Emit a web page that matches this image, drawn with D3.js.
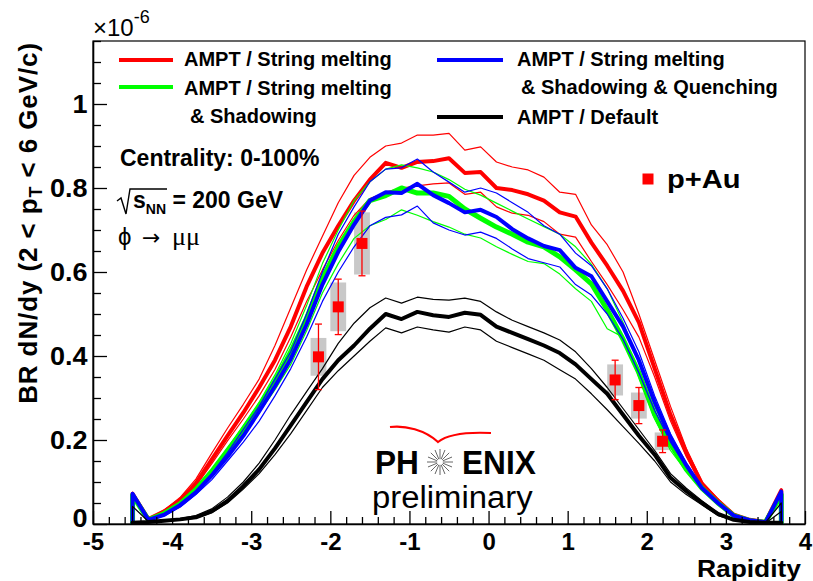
<!DOCTYPE html>
<html>
<head>
<meta charset="utf-8">
<script src="https://cdn.jsdelivr.net/npm/d3@7"></script>
<style>
  body { margin: 0; background: #fff; }
  text { font-family: "Liberation Sans", Arial, Helvetica, sans-serif; }
</style>
</head>
<body>
<svg id="chart" width="813" height="581"></svg>
<script>
// ---------------- DATA ----------------
const rapidity = [-4.5, -4.3, -4.1, -3.9, -3.7, -3.5, -3.3, -3.1, -2.9, -2.7, -2.5, -2.3, -2.1, -1.9, -1.7, -1.5, -1.3, -1.1, -0.9, -0.7, -0.5, -0.3, -0.1,
                  0.1, 0.3, 0.5, 0.7, 0.9, 1.1, 1.3, 1.5, 1.7, 1.9, 2.1, 2.3, 2.5, 2.7, 2.9, 3.1, 3.3, 3.5, 3.7];

// AMPT / String melting (red): central, upper, lower
const smMid = [0.072, 0.012, 0.030, 0.057, 0.097, 0.153, 0.210, 0.265, 0.325, 0.390, 0.470, 0.565, 0.645, 0.710, 0.770, 0.820, 0.860, 0.848, 0.862, 0.864, 0.871, 0.836, 0.838,
               0.800, 0.795, 0.785, 0.770, 0.742, 0.732, 0.670, 0.615, 0.555, 0.480, 0.370, 0.260, 0.170, 0.095, 0.055, 0.022, 0.010, 0.005, 0.080];
const smUp  = [0.076, 0.013, 0.033, 0.063, 0.107, 0.168, 0.228, 0.285, 0.345, 0.425, 0.515, 0.605, 0.685, 0.765, 0.830, 0.873, 0.900, 0.907, 0.926, 0.926, 0.930, 0.890, 0.898,
               0.862, 0.850, 0.843, 0.826, 0.790, 0.785, 0.712, 0.665, 0.600, 0.500, 0.390, 0.280, 0.180, 0.100, 0.060, 0.025, 0.011, 0.005, 0.084];
const smLo  = [0.070, 0.011, 0.028, 0.053, 0.090, 0.143, 0.198, 0.250, 0.305, 0.368, 0.445, 0.530, 0.605, 0.675, 0.735, 0.775, 0.790, 0.800, 0.805, 0.810, 0.812, 0.785, 0.790,
               0.755, 0.740, 0.735, 0.720, 0.690, 0.683, 0.625, 0.570, 0.510, 0.445, 0.350, 0.245, 0.160, 0.090, 0.052, 0.020, 0.009, 0.004, 0.076];

// AMPT / String melting & Shadowing (green)
const shMid = [0.068, 0.010, 0.025, 0.048, 0.082, 0.125, 0.175, 0.225, 0.280, 0.340, 0.410, 0.490, 0.585, 0.660, 0.720, 0.770, 0.782, 0.800, 0.788, 0.788, 0.780, 0.750, 0.728,
               0.707, 0.690, 0.671, 0.660, 0.636, 0.605, 0.572, 0.510, 0.440, 0.360, 0.260, 0.190, 0.130, 0.085, 0.050, 0.020, 0.008, 0.004, 0.070];
const shUp  = [0.070, 0.011, 0.026, 0.050, 0.085, 0.130, 0.180, 0.235, 0.290, 0.355, 0.430, 0.520, 0.620, 0.700, 0.770, 0.815, 0.845, 0.855, 0.848, 0.838, 0.820, 0.797, 0.783,
               0.764, 0.745, 0.726, 0.708, 0.690, 0.660, 0.618, 0.560, 0.480, 0.385, 0.280, 0.200, 0.140, 0.090, 0.052, 0.021, 0.009, 0.004, 0.072];
const shLo  = [0.066, 0.010, 0.023, 0.045, 0.078, 0.120, 0.165, 0.215, 0.265, 0.320, 0.380, 0.460, 0.550, 0.620, 0.680, 0.710, 0.725, 0.748, 0.735, 0.720, 0.707, 0.690, 0.681,
               0.660, 0.642, 0.625, 0.620, 0.595, 0.560, 0.530, 0.465, 0.445, 0.350, 0.250, 0.175, 0.125, 0.080, 0.048, 0.019, 0.008, 0.003, 0.068];

// AMPT / String melting & Shadowing & Quenching (blue)
const sqMid = [0.072, 0.010, 0.022, 0.045, 0.075, 0.115, 0.160, 0.210, 0.268, 0.328, 0.393, 0.475, 0.570, 0.648, 0.713, 0.770, 0.790, 0.788, 0.810, 0.783, 0.764, 0.742, 0.748,
               0.731, 0.702, 0.680, 0.662, 0.652, 0.610, 0.590, 0.530, 0.470, 0.390, 0.290, 0.205, 0.140, 0.085, 0.050, 0.020, 0.009, 0.004, 0.077];
const sqUp  = [0.074, 0.010, 0.023, 0.046, 0.080, 0.120, 0.170, 0.225, 0.280, 0.345, 0.410, 0.500, 0.600, 0.690, 0.755, 0.815, 0.845, 0.848, 0.869, 0.838, 0.814, 0.790, 0.800,
               0.788, 0.765, 0.742, 0.710, 0.690, 0.645, 0.615, 0.560, 0.490, 0.410, 0.305, 0.215, 0.145, 0.088, 0.052, 0.021, 0.009, 0.004, 0.080];
const sqLo  = [0.070, 0.009, 0.020, 0.040, 0.070, 0.105, 0.150, 0.195, 0.245, 0.305, 0.370, 0.445, 0.530, 0.600, 0.660, 0.710, 0.730, 0.736, 0.757, 0.717, 0.700, 0.688, 0.695,
               0.680, 0.655, 0.632, 0.622, 0.612, 0.570, 0.545, 0.500, 0.440, 0.360, 0.270, 0.195, 0.135, 0.082, 0.048, 0.019, 0.008, 0.003, 0.074];

// AMPT / Default (black)
const dfMid = [0.003, 0.005, 0.008, 0.011, 0.016, 0.030, 0.055, 0.090, 0.130, 0.180, 0.235, 0.290, 0.345, 0.390, 0.425, 0.465, 0.500, 0.488, 0.505, 0.497, 0.493, 0.503, 0.498,
               0.470, 0.455, 0.440, 0.425, 0.407, 0.380, 0.345, 0.310, 0.260, 0.210, 0.165, 0.110, 0.078, 0.050, 0.024, 0.010, 0.005, 0.003, 0.003];
const dfUp  = [0.042, 0.006, 0.009, 0.013, 0.020, 0.036, 0.064, 0.100, 0.145, 0.200, 0.260, 0.315, 0.370, 0.430, 0.478, 0.515, 0.538, 0.526, 0.540, 0.535, 0.533, 0.538, 0.530,
               0.505, 0.485, 0.470, 0.455, 0.438, 0.410, 0.370, 0.325, 0.275, 0.225, 0.175, 0.120, 0.085, 0.055, 0.026, 0.011, 0.005, 0.003, 0.050];
const dfLo  = [0.004, 0.004, 0.007, 0.010, 0.014, 0.027, 0.050, 0.083, 0.120, 0.165, 0.215, 0.270, 0.325, 0.365, 0.400, 0.435, 0.467, 0.455, 0.469, 0.462, 0.457, 0.469, 0.462,
               0.435, 0.420, 0.405, 0.390, 0.367, 0.345, 0.310, 0.272, 0.232, 0.192, 0.150, 0.100, 0.070, 0.045, 0.020, 0.009, 0.004, 0.002, 0.030];

// p+Au data
const pAuRapidity = [-2.15, -1.90, -1.60, 1.60, 1.90, 2.20];
const pAuValue    = [0.398, 0.517, 0.668, 0.343, 0.282, 0.197];
const pAuStat     = [0.078, 0.066, 0.077, 0.047, 0.043, 0.027];
const pAuSys      = [0.045, 0.058, 0.074, 0.037, 0.031, 0.021];
const pAuSysHalfWidth = 0.1;

// axes
const xMajorTicks = [-5, -4, -3, -2, -1, 0, 1, 2, 3, 4];
const yMajorTicks = [0, 0.2, 0.4, 0.6, 0.8, 1];
const legendLabels = ["AMPT / String melting", "AMPT / String melting", "& Shadowing",
                      "AMPT / String melting", "& Shadowing & Quenching", "AMPT / Default"];

// ---------------- CHART ----------------
const svg = d3.select("#chart");
const x = d3.scaleLinear().domain([-5, 4]).range([93, 805]);
const y = d3.scaleLinear().domain([0, 1.15]).range([524, 41]);

// frame
svg.append("rect")
  .attr("x", x(-5)).attr("y", y(1.15))
  .attr("width", x(4) - x(-5)).attr("height", y(0) - y(1.15))
  .attr("fill", "none").attr("stroke", "#000").attr("stroke-width", 1.2);

// p+Au systematic boxes (drawn under curves)
const pAu = pAuRapidity.map((r, i) => ({r, v: pAuValue[i], s: pAuStat[i], sy: pAuSys[i]}));
svg.append("g").selectAll("rect").data(pAu).join("rect")
  .attr("x", d => x(d.r - pAuSysHalfWidth))
  .attr("width", d => x(d.r + pAuSysHalfWidth) - x(d.r - pAuSysHalfWidth))
  .attr("y", d => y(d.v + d.sy))
  .attr("height", d => y(d.v - d.sy) - y(d.v + d.sy))
  .attr("fill", "#c8c8c8");

// model curves
const models = [
  {color: "#ff0000", mid: smMid, up: smUp, lo: smLo, w: 4},
  {color: "#00ff00", mid: shMid, up: shUp, lo: shLo, w: 5},
  {color: "#0000ff", mid: sqMid, up: sqUp, lo: sqLo, w: 4},
  {color: "#000000", mid: dfMid, up: dfUp, lo: dfLo, w: 4}
];
const line = d3.line().x(d => x(d[0])).y(d => y(d[1]));
function curvePoints(vals) {
  const pts = rapidity.map((r, i) => [r, vals[i]]);
  return [[rapidity[0], 0], ...pts, [rapidity[rapidity.length - 1], 0]];
}
const curves = svg.append("g").attr("fill", "none").attr("stroke-linejoin", "round");
models.forEach(m => {
  [m.up, m.lo].forEach(v => {
    curves.append("path").attr("d", line(curvePoints(v)))
      .attr("stroke", m.color).attr("stroke-width", 1.2);
  });
  curves.append("path").attr("d", line(curvePoints(m.mid)))
    .attr("stroke", m.color).attr("stroke-width", m.w);
});

// p+Au stat errors + markers
const pts = svg.append("g");
pts.selectAll("line.err").data(pAu).join("line").attr("class", "err")
  .attr("x1", d => x(d.r)).attr("x2", d => x(d.r))
  .attr("y1", d => y(d.v + d.s)).attr("y2", d => y(d.v - d.s))
  .attr("stroke", "#ff0000").attr("stroke-width", 1.3);
["top", "bot"].forEach(k => {
  pts.selectAll("line.cap" + k).data(pAu).join("line").attr("class", "cap" + k)
    .attr("x1", d => x(d.r) - 3.5).attr("x2", d => x(d.r) + 3.5)
    .attr("y1", d => y(k === "top" ? d.v + d.s : d.v - d.s))
    .attr("y2", d => y(k === "top" ? d.v + d.s : d.v - d.s))
    .attr("stroke", "#ff0000").attr("stroke-width", 1.3);
});
pts.selectAll("rect").data(pAu).join("rect")
  .attr("x", d => x(d.r) - 5.5).attr("y", d => y(d.v) - 5.5)
  .attr("width", 11).attr("height", 11).attr("fill", "#ff0000");

// axes
const fmt = d => String(d);
const xAxis = svg.append("g").attr("transform", `translate(0,${y(0)})`)
  .call(d3.axisBottom(x).tickValues(xMajorTicks).tickFormat(fmt).tickSize(-13).tickSizeOuter(0).tickPadding(9));
const xMinor = d3.range(-5, 4.001, 0.2).filter(v => Math.abs(v - Math.round(v)) > 1e-6);
svg.append("g").attr("transform", `translate(0,${y(0)})`)
  .call(d3.axisBottom(x).tickValues(xMinor).tickFormat("").tickSize(-7).tickSizeOuter(0))
  .call(g => g.select(".domain").remove());
const yAxis = svg.append("g").attr("transform", `translate(${x(-5)},0)`)
  .call(d3.axisLeft(y).tickValues(yMajorTicks).tickFormat(fmt).tickSize(-14).tickSizeOuter(0).tickPadding(5));
const yMinor = d3.range(0, 1.151, 0.05).filter(v => Math.abs(v * 5 - Math.round(v * 5)) > 1e-6);
svg.append("g").attr("transform", `translate(${x(-5)},0)`)
  .call(d3.axisLeft(y).tickValues(yMinor).tickFormat("").tickSize(-8).tickSizeOuter(0))
  .call(g => g.select(".domain").remove());
[xAxis, yAxis].forEach(g => {
  g.select(".domain").attr("stroke-width", 1.6);
  g.selectAll(".tick text").attr("font-weight", "bold")
    .attr("font-family", "Liberation Sans, Arial, sans-serif").attr("fill", "#000");
});
xAxis.selectAll(".tick text").attr("font-size", 24);
yAxis.selectAll(".tick text").attr("font-size", 25).attr("transform", "scale(1.08,1)");
// keep the "0" of the y axis clear of the "-5" of the x axis
yAxis.selectAll(".tick text").filter(d => d === 0).attr("dy", "0.1em");
svg.selectAll(".tick line").attr("stroke-width", 1.3);

// axis titles
svg.append("text").attr("transform", "translate(801,577) scale(1.1,1)").attr("text-anchor", "end")
  .attr("font-size", 24).attr("font-weight", "bold").text("Rapidity");
const yt = svg.append("text").attr("transform", "translate(37,42) rotate(-90)")
  .attr("text-anchor", "end").attr("font-size", 26).attr("font-weight", "bold")
  .attr("letter-spacing", 0.9);
yt.append("tspan").text("BR dN/dy (2 < p");
yt.append("tspan").attr("font-size", 18).attr("dy", 5).text("T");
yt.append("tspan").attr("dy", -5).text(" < 6 GeV/c)");

// exponent
const ex = svg.append("text").attr("x", 93).attr("y", 36).attr("font-size", 24);
ex.append("tspan").text("\u00d710");
ex.append("tspan").attr("font-size", 18).attr("dy", -13).text("-6");

// legend
const legend = svg.append("g");
const legItems = [
  {color: "#ff0000", x1: 119, x2: 173, ly: 60, tx: 184, lines: [[legendLabels[0], 66]]},
  {color: "#00ff00", x1: 119, x2: 173, ly: 87, tx: 184, lines: [[legendLabels[1], 95], [legendLabels[2], 123, 190]]},
  {color: "#0000ff", x1: 437, x2: 503, ly: 60, tx: 517, lines: [[legendLabels[3], 66], [legendLabels[4], 94, 521]]},
  {color: "#000000", x1: 437, x2: 503, ly: 117, tx: 517, lines: [[legendLabels[5], 124]]}
];
legItems.forEach(it => {
  legend.append("line").attr("x1", it.x1).attr("x2", it.x2).attr("y1", it.ly).attr("y2", it.ly)
    .attr("stroke", it.color).attr("stroke-width", 4);
  it.lines.forEach(l => {
    legend.append("text").attr("x", l[2] || it.tx).attr("y", l[1])
      .attr("font-size", 20).attr("font-weight", "bold").text(l[0]);
  });
});

// annotations
svg.append("text").attr("x", 120).attr("y", 166).attr("font-size", 23).attr("font-weight", "bold")
  .text("Centrality: 0-100%");
// square-root sign drawn as strokes (as in the original TLatex rendering)
svg.append("path").attr("d", "M117,201 L121,198 L126,214 L130,189 L167,189")
  .attr("fill", "none").attr("stroke", "#000").attr("stroke-width", 1.4);
const sq = svg.append("text").attr("x", 133).attr("y", 208).attr("font-size", 23).attr("font-weight", "bold");
sq.append("tspan").text("s");
sq.append("tspan").attr("font-size", 14).attr("dy", 6).text("NN");
sq.append("tspan").attr("dy", -6).text(" = 200 GeV");
const phi = svg.append("text").attr("y", 245).attr("font-size", 24)
  .attr("font-family", "DejaVu Serif, Liberation Serif, serif");
phi.append("tspan").attr("x", 118).text("\u03d5");
phi.append("tspan").attr("x", 142).attr("font-family", "DejaVu Sans").attr("font-size", 22).text("\u2192");
phi.append("tspan").attr("x", 172).attr("font-family", "Liberation Serif, serif").attr("font-size", 26).text("\u03bc\u03bc");

// p+Au legend
svg.append("rect").attr("x", 642.5).attr("y", 173.5).attr("width", 11).attr("height", 11).attr("fill", "#ff0000");
svg.append("text").attr("transform", "translate(667,188) scale(1.12,1)")
  .attr("font-size", 26).attr("font-weight", "bold").text("p+Au");

// PHENIX preliminary logo
const logo = svg.append("g");
logo.append("path")
  .attr("d", "M390,427 C405,425 425,430 438,442 C448,434 470,432 491,433")
  .attr("fill", "none").attr("stroke", "#ff0000").attr("stroke-width", 2.2);
const star = logo.append("g").attr("transform", "translate(440,462)");
d3.range(16).forEach(i => {
  const a = i * Math.PI / 8;
  star.append("line")
    .attr("x1", 3 * Math.cos(a)).attr("y1", 3 * Math.sin(a))
    .attr("x2", 13 * Math.cos(a)).attr("y2", 13 * Math.sin(a))
    .attr("stroke", "#666").attr("stroke-width", 1);
});
logo.append("text").attr("transform", "translate(375,474) scale(0.93,1)")
  .attr("font-size", 34).attr("font-weight", "bold").text("PH");
logo.append("text").attr("transform", "translate(462,474) scale(0.93,1)")
  .attr("font-size", 34).attr("font-weight", "bold").text("ENIX");
logo.append("text").attr("transform", "translate(372,508) scale(1.06,1)")
  .attr("font-size", 31).text("preliminary");
</script>
</body>
</html>
